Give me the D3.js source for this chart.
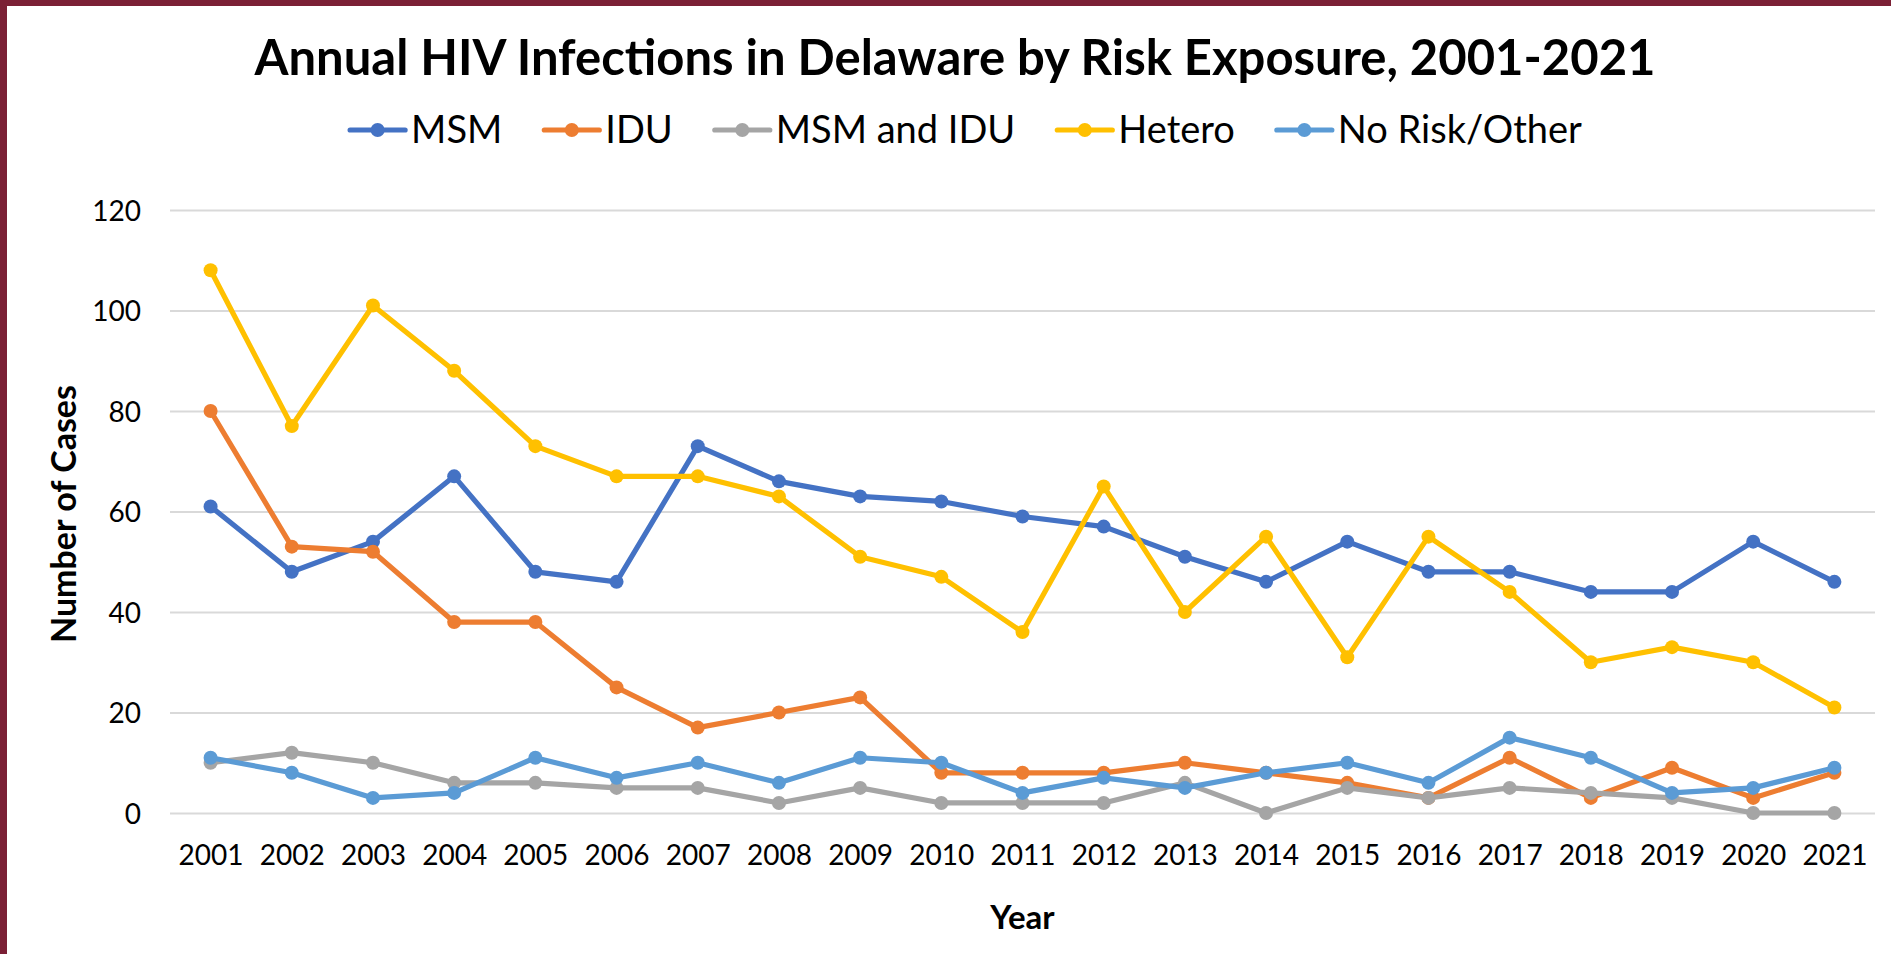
<!DOCTYPE html>
<html>
<head>
<meta charset="utf-8">
<script src="https://cdn.jsdelivr.net/npm/d3@7"></script>
<style>
  html, body { margin: 0; padding: 0; background: #ffffff; }
  svg { display: block; }
  text { font-family: Lato, "Open Sans", sans-serif; fill: #000; }
</style>
</head>
<body>
<svg id="chart" width="1891" height="954"></svg>
<script>
const years = ["2001","2002","2003","2004","2005","2006","2007","2008","2009","2010","2011","2012","2013","2014","2015","2016","2017","2018","2019","2020","2021"];
const msm      = [61,48,54,67,48,46,73,66,63,62,59,57,51,46,54,48,48,44,44,54,46];
const idu      = [80,53,52,38,38,25,17,20,23,8,8,8,10,8,6,3,11,3,9,3,8];
const msmIdu   = [10,12,10,6,6,5,5,2,5,2,2,2,6,0,5,3,5,4,3,0,0];
const hetero   = [108,77,101,88,73,67,67,63,51,47,36,65,40,55,31,55,44,30,33,30,21];
const noRisk   = [11,8,3,4,11,7,10,6,11,10,4,7,5,8,10,6,15,11,4,5,9];
const seriesNames  = ["MSM","IDU","MSM and IDU","Hetero","No Risk/Other"];
const seriesColors = ["#4472C4","#ED7D31","#A5A5A5","#FFC000","#5B9BD5"];
const yTicks = [0,20,40,60,80,100,120];
const titleText = "Annual HIV Infections in Delaware by Risk Exposure, 2001-2021";
const xTitle = "Year";
const yTitle = "Number of Cases";

const series = [msm, idu, msmIdu, hetero, noRisk].map((vals, i) => ({
  name: seriesNames[i], color: seriesColors[i], values: vals
}));

const W = 1891, H = 954;
const plot = { left: 170, right: 1875, top: 210, bottom: 813 };
const svg = d3.select("#chart");

svg.append("rect").attr("width", W).attr("height", H).attr("fill", "#ffffff");
// maroon frame (left and top)
svg.append("rect").attr("x", 0).attr("y", 0).attr("width", 7).attr("height", H).attr("fill", "#7B2035");
svg.append("rect").attr("x", 0).attr("y", 0).attr("width", W).attr("height", 6).attr("fill", "#7B2035");

const x = d3.scalePoint().domain(years).range([plot.left, plot.right]).padding(0.5);
const y = d3.scaleLinear().domain([0, 120]).range([plot.bottom, plot.top]);

// Y axis with gridlines
const yAxis = d3.axisLeft(y).tickValues(yTicks).tickSize(-(plot.right - plot.left)).tickPadding(29);
const gy = svg.append("g").attr("transform", `translate(${plot.left},0)`).call(yAxis);
gy.select(".domain").remove();
gy.selectAll(".tick line").attr("stroke", "#d9d9d9").attr("stroke-width", 2);
gy.selectAll(".tick text").attr("font-family", "Lato").attr("font-size", 28).attr("fill", "#000").attr("dy", "0.36em");

// X axis
const xAxis = d3.axisBottom(x).tickSize(0).tickPadding(32);
const gx = svg.append("g").attr("transform", `translate(0,${plot.bottom})`).call(xAxis);
gx.select(".domain").remove();
gx.selectAll(".tick text").attr("font-family", "Lato").attr("font-size", 28).attr("fill", "#000");

// Lines and markers
const line = d3.line().x((d, i) => x(years[i])).y(d => y(d));
const gs = svg.append("g");
series.forEach(s => {
  const g = gs.append("g");
  g.append("path").datum(s.values).attr("d", line).attr("fill", "none")
    .attr("stroke", s.color).attr("stroke-width", 5.2).attr("stroke-linejoin", "round").attr("stroke-linecap", "round");
  g.selectAll("circle").data(s.values).join("circle")
    .attr("cx", (d, i) => x(years[i])).attr("cy", d => y(d)).attr("r", 7).attr("fill", s.color);
});

// Title
svg.append("text").attr("x", 955).attr("y", 75).attr("text-anchor", "middle")
  .attr("font-weight", 700).attr("font-size", 49).text(titleText);

// Axis titles
svg.append("text").attr("x", (plot.left + plot.right) / 2).attr("y", 929).attr("text-anchor", "middle")
  .attr("font-weight", 700).attr("font-size", 33).text(xTitle);
svg.append("text").attr("transform", "translate(76,514) rotate(-90)").attr("text-anchor", "middle")
  .attr("font-weight", 700).attr("font-size", 34).text(yTitle);

// Legend
const legend = svg.append("g");
const lineLen = 55, textGap = 6, itemGap = 42, legY = 130;
let cursor = 0;
series.forEach(s => {
  const g = legend.append("g").attr("transform", `translate(${cursor},0)`);
  g.append("line").attr("x1", 0).attr("x2", lineLen).attr("y1", legY).attr("y2", legY)
    .attr("stroke", s.color).attr("stroke-width", 5.2).attr("stroke-linecap", "round");
  g.append("circle").attr("cx", lineLen / 2).attr("cy", legY).attr("r", 7).attr("fill", s.color);
  const t = g.append("text").attr("x", lineLen + textGap).attr("y", legY + 13).attr("font-size", 38).text(s.name);
  cursor += lineLen + textGap + t.node().getComputedTextLength() + itemGap;
});
const legW = cursor - itemGap;
legend.attr("transform", `translate(${966 - legW / 2},0)`);
</script>
</body>
</html>
